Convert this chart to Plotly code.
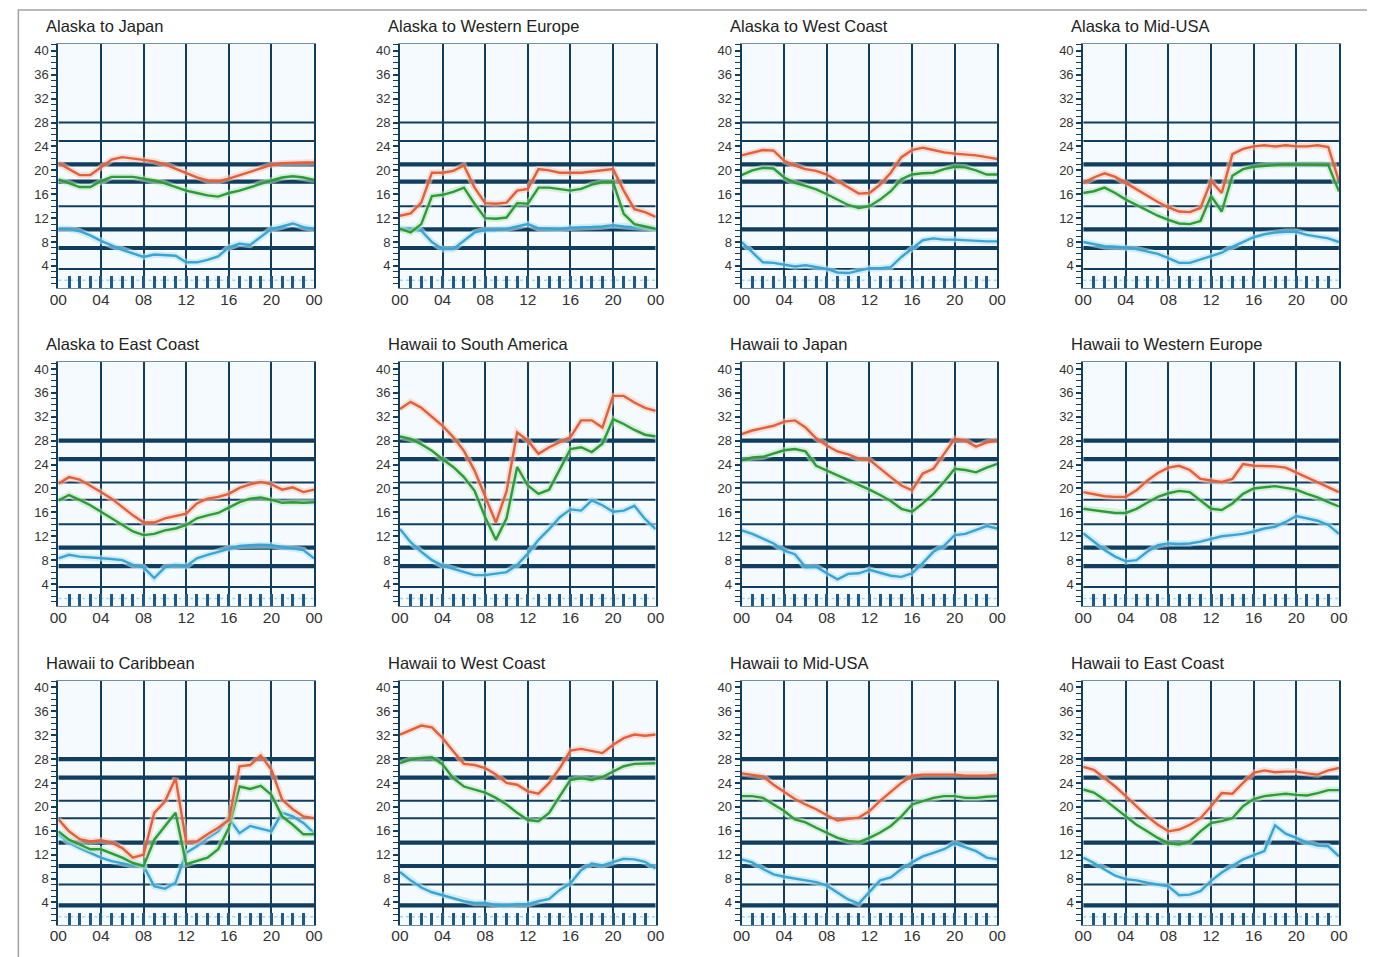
import plotly.graph_objects as go
from plotly.subplots import make_subplots

# ---------------- data ----------------
HOURS = list(range(25))
HOUR_TICKS = [0, 4, 8, 12, 16, 20, 24]
HOUR_LABELS = ["00", "04", "08", "12", "16", "20", "00"]
Y_TICKS = [4, 8, 12, 16, 20, 24, 28, 32, 36, 40]
BANDS = [28.0, 24.9, 21.0, 18.1, 14.0, 10.1, 7.0, 3.5]

TITLES = [
    "Alaska to Japan", "Alaska to Western Europe", "Alaska to West Coast", "Alaska to Mid-USA",
    "Alaska to East Coast", "Hawaii to South America", "Hawaii to Japan", "Hawaii to Western Europe",
    "Hawaii to Caribbean", "Hawaii to West Coast", "Hawaii to Mid-USA", "Hawaii to East Coast",
]

THICK_ROW1 = [21.0, 18.1, 10.1, 7.0]
THICK_ROW2 = [28.0, 24.9, 10.1, 7.0]
THICK_ROW3 = [28.0, 24.9, 14.0, 10.1, 3.5]

AK_JP_MUF = [21.2, 20.2, 19.2, 19.2, 20.5, 21.8, 22.2, 22.0, 21.8, 21.5, 21.0, 20.3, 19.5, 18.8, 18.3, 18.2, 18.6, 19.2, 19.8, 20.4, 20.9, 21.2, 21.3, 21.3, 21.3]
AK_JP_FOT = [18.5, 17.8, 17.2, 17.2, 18.2, 18.9, 18.9, 18.9, 18.6, 18.3, 17.8, 17.2, 16.6, 16.2, 15.8, 15.6, 16.2, 16.6, 17.2, 17.8, 18.3, 18.8, 19.0, 18.8, 18.4]
AK_JP_LUF = [10.2, 10.2, 9.8, 9.1, 8.2, 7.4, 6.7, 6.1, 5.5, 5.9, 5.8, 5.7, 4.6, 4.6, 5.0, 5.6, 7.1, 7.7, 7.5, 8.9, 10.2, 10.6, 11.1, 10.5, 10.2]

AK_WE_MUF = [12.4, 12.8, 14.6, 19.6, 19.6, 19.9, 20.8, 17.1, 14.5, 14.4, 14.6, 16.6, 16.9, 20.2, 20.0, 19.6, 19.6, 19.6, 19.8, 20.0, 20.2, 16.6, 13.5, 13.0, 12.2]
AK_WE_FOT = [10.2, 9.6, 11.0, 15.7, 15.9, 16.4, 17.1, 14.4, 12.0, 11.9, 12.1, 14.5, 14.4, 17.1, 17.1, 16.8, 16.6, 16.9, 17.6, 18.0, 18.0, 12.7, 11.0, 10.6, 10.2]
AK_WE_LUF = [10.2, 10.2, 9.9, 8.0, 6.8, 6.8, 8.2, 9.6, 10.0, 10.0, 10.2, 10.6, 11.0, 10.3, 10.2, 10.2, 10.4, 10.4, 10.5, 10.6, 10.8, 10.6, 10.5, 10.4, 10.2]

AK_WC_MUF = [22.5, 23.0, 23.4, 23.3, 21.6, 20.8, 20.2, 19.9, 19.3, 18.2, 17.1, 16.1, 16.2, 17.6, 19.6, 22.2, 23.4, 23.8, 23.4, 23.0, 22.8, 22.7, 22.5, 22.2, 21.9]
AK_WC_FOT = [19.2, 20.0, 20.4, 20.3, 18.8, 17.9, 17.4, 16.8, 16.0, 15.1, 14.2, 13.7, 14.0, 15.1, 16.5, 18.5, 19.3, 19.5, 19.6, 20.2, 20.6, 20.5, 20.0, 19.3, 19.3]
AK_WC_LUF = [8.0, 6.3, 4.6, 4.5, 4.2, 3.9, 4.1, 3.8, 3.5, 2.9, 2.8, 3.2, 3.6, 3.6, 3.8, 5.5, 6.9, 8.3, 8.6, 8.4, 8.4, 8.3, 8.1, 8.1, 8.1]

AK_MID_MUF = [17.9, 18.8, 19.5, 18.9, 17.9, 16.8, 15.7, 14.7, 13.8, 13.1, 13.0, 13.7, 18.2, 16.2, 22.7, 23.6, 24.0, 24.2, 24.0, 24.2, 24.0, 24.0, 24.2, 23.9, 18.2]
AK_MID_FOT = [16.2, 16.5, 17.1, 16.2, 15.1, 14.2, 13.3, 12.4, 11.7, 11.1, 11.0, 11.5, 15.7, 13.1, 19.1, 20.2, 20.6, 20.8, 20.9, 21.0, 21.0, 21.0, 21.0, 20.9, 16.5]
AK_MID_LUF = [8.0, 7.6, 7.3, 7.2, 7.1, 6.8, 6.4, 6.0, 5.3, 4.5, 4.5, 5.1, 5.6, 6.2, 7.2, 8.0, 8.8, 9.3, 9.6, 9.7, 9.7, 9.2, 8.9, 8.6, 8.0]

AK_EC_MUF = [20.8, 21.9, 21.5, 20.5, 19.4, 18.3, 16.9, 15.5, 14.3, 14.3, 15.0, 15.4, 15.8, 17.5, 18.3, 18.6, 19.1, 20.1, 20.7, 21.1, 20.7, 19.8, 20.2, 19.4, 19.8]
AK_EC_FOT = [18.0, 18.9, 18.1, 17.2, 16.1, 15.0, 13.9, 12.8, 12.2, 12.4, 13.0, 13.3, 13.9, 15.0, 15.5, 15.9, 16.8, 17.7, 18.3, 18.5, 18.1, 17.6, 17.7, 17.6, 17.7]
AK_EC_LUF = [8.3, 8.9, 8.6, 8.5, 8.3, 8.2, 8.0, 7.2, 6.8, 5.0, 6.8, 7.2, 7.0, 8.3, 8.9, 9.4, 10.0, 10.4, 10.5, 10.6, 10.5, 10.2, 10.0, 9.7, 8.3]

HI_SA_MUF = [33.3, 34.5, 33.5, 32.0, 30.5, 28.6, 26.3, 23.0, 18.5, 14.3, 19.5, 29.4, 28.0, 25.8, 26.9, 27.7, 28.6, 31.4, 31.4, 30.2, 35.5, 35.5, 34.4, 33.5, 33.0]
HI_SA_FOT = [28.7, 28.3, 27.4, 26.3, 24.9, 23.6, 21.9, 19.6, 15.2, 11.4, 15.0, 23.6, 20.5, 19.1, 19.8, 23.3, 26.6, 26.9, 26.1, 27.5, 31.6, 30.8, 29.8, 29.0, 28.7]
HI_SA_LUF = [13.2, 11.0, 9.4, 8.0, 7.1, 6.6, 6.1, 5.5, 5.5, 5.8, 6.0, 7.2, 9.1, 11.4, 13.2, 15.2, 16.5, 16.3, 18.0, 17.2, 16.1, 16.3, 17.1, 14.9, 13.2]

HI_JP_MUF = [29.1, 29.7, 30.1, 30.5, 31.2, 31.4, 30.2, 28.4, 27.2, 26.2, 25.7, 25.0, 24.8, 23.3, 21.9, 20.5, 19.7, 22.5, 23.3, 25.8, 28.3, 28.0, 27.0, 27.7, 28.1]
HI_JP_FOT = [24.7, 25.2, 25.3, 25.8, 26.4, 26.6, 26.2, 23.8, 23.0, 22.2, 21.5, 20.7, 19.8, 18.9, 17.9, 16.6, 16.1, 17.5, 19.1, 21.1, 23.3, 23.1, 22.7, 23.5, 24.1]
HI_JP_LUF = [13.0, 12.4, 11.6, 10.8, 9.6, 9.0, 6.8, 6.9, 5.8, 4.8, 5.7, 5.8, 6.4, 5.9, 5.4, 5.2, 5.8, 7.5, 9.4, 10.4, 12.2, 12.4, 13.0, 13.7, 13.3]

HI_WE_MUF = [19.4, 19.0, 18.7, 18.6, 18.6, 19.7, 21.3, 22.6, 23.5, 23.8, 23.1, 21.6, 21.3, 21.1, 21.6, 24.1, 23.8, 23.8, 23.7, 23.5, 22.7, 21.9, 21.1, 20.3, 19.4]
HI_WE_FOT = [16.6, 16.4, 16.1, 15.9, 15.9, 16.6, 17.6, 18.6, 19.2, 19.6, 19.4, 18.0, 16.6, 16.4, 17.5, 19.1, 20.0, 20.2, 20.4, 20.1, 19.8, 19.1, 18.5, 17.7, 17.0]
HI_WE_LUF = [12.5, 11.1, 9.7, 8.6, 7.8, 8.0, 9.4, 10.5, 10.8, 10.7, 10.8, 11.1, 11.6, 12.0, 12.2, 12.4, 12.8, 13.3, 13.6, 14.4, 15.4, 15.0, 14.6, 13.9, 12.4]

HI_CA_MUF = [17.9, 15.9, 14.6, 14.2, 14.4, 14.0, 13.1, 11.5, 12.0, 19.0, 20.9, 24.8, 14.1, 14.2, 15.4, 16.5, 17.8, 26.8, 27.0, 28.6, 26.2, 21.2, 19.6, 18.4, 18.1]
HI_CA_FOT = [15.9, 14.5, 13.7, 12.9, 12.9, 12.2, 11.5, 10.6, 10.1, 14.5, 16.8, 19.0, 10.4, 10.9, 11.5, 12.9, 16.5, 23.4, 23.0, 23.5, 22.0, 18.4, 17.0, 15.4, 15.4]
HI_CA_LUF = [15.4, 14.0, 13.1, 12.3, 11.5, 10.9, 10.6, 10.2, 10.1, 6.7, 6.3, 7.3, 12.3, 13.4, 14.8, 15.9, 18.1, 15.6, 16.8, 16.3, 15.9, 19.0, 18.4, 17.3, 15.6]

HI_WC_MUF = [32.1, 32.9, 33.6, 33.3, 31.5, 29.3, 27.2, 27.0, 26.5, 25.4, 24.0, 23.7, 22.6, 22.2, 24.0, 26.5, 29.4, 29.7, 29.3, 29.0, 30.4, 31.5, 32.1, 31.9, 32.1]
HI_WC_FOT = [27.3, 27.9, 28.2, 28.3, 27.1, 24.8, 23.4, 22.9, 22.4, 21.5, 20.4, 19.0, 17.8, 17.6, 19.0, 21.8, 24.5, 24.8, 24.5, 25.0, 25.9, 26.8, 27.2, 27.3, 27.3]
HI_WC_LUF = [9.1, 7.7, 6.5, 5.7, 5.2, 4.7, 4.2, 3.9, 3.9, 3.6, 3.5, 3.7, 3.7, 4.2, 4.6, 6.1, 7.2, 9.4, 10.5, 10.2, 10.8, 11.3, 11.2, 10.8, 9.7]

HI_MID_MUF = [25.6, 25.4, 25.1, 23.7, 22.5, 21.3, 20.4, 19.6, 18.6, 17.7, 18.0, 18.2, 19.3, 21.0, 22.5, 24.0, 25.2, 25.4, 25.4, 25.4, 25.4, 25.2, 25.2, 25.2, 25.4]
HI_MID_FOT = [21.8, 21.8, 21.5, 20.4, 19.3, 17.9, 17.4, 16.5, 15.7, 14.8, 14.3, 14.1, 14.8, 15.7, 16.8, 18.4, 20.4, 21.0, 21.5, 21.8, 21.8, 21.5, 21.5, 21.7, 21.8]
HI_MID_LUF = [11.2, 10.7, 9.6, 8.7, 8.3, 8.0, 7.8, 7.4, 6.8, 5.7, 4.5, 3.8, 5.7, 7.7, 8.2, 9.6, 10.7, 11.7, 12.3, 12.9, 13.9, 13.2, 12.6, 11.5, 11.2]

HI_EC_MUF = [26.7, 26.2, 24.8, 23.4, 21.8, 20.1, 18.4, 17.0, 15.9, 16.2, 17.0, 18.1, 20.1, 22.3, 22.2, 24.0, 25.7, 26.1, 25.8, 25.9, 25.9, 25.6, 25.4, 26.1, 26.5]
HI_EC_FOT = [22.9, 22.4, 21.2, 19.8, 18.4, 17.0, 15.9, 14.8, 13.9, 13.7, 14.2, 15.9, 17.3, 17.6, 18.1, 20.1, 21.3, 21.8, 22.0, 22.2, 22.0, 21.9, 22.3, 22.8, 22.8]
HI_EC_LUF = [11.5, 10.6, 9.5, 8.5, 7.9, 7.7, 7.3, 7.0, 6.7, 5.2, 5.3, 5.9, 7.6, 9.0, 10.1, 11.2, 11.9, 12.6, 16.9, 15.5, 14.8, 14.0, 13.5, 13.4, 11.7]

PANELS = [
    (AK_JP_MUF, AK_JP_FOT, AK_JP_LUF, THICK_ROW1),
    (AK_WE_MUF, AK_WE_FOT, AK_WE_LUF, THICK_ROW1),
    (AK_WC_MUF, AK_WC_FOT, AK_WC_LUF, THICK_ROW1),
    (AK_MID_MUF, AK_MID_FOT, AK_MID_LUF, THICK_ROW1),
    (AK_EC_MUF, AK_EC_FOT, AK_EC_LUF, THICK_ROW2),
    (HI_SA_MUF, HI_SA_FOT, HI_SA_LUF, THICK_ROW2),
    (HI_JP_MUF, HI_JP_FOT, HI_JP_LUF, THICK_ROW2),
    (HI_WE_MUF, HI_WE_FOT, HI_WE_LUF, THICK_ROW2),
    (HI_CA_MUF, HI_CA_FOT, HI_CA_LUF, THICK_ROW3),
    (HI_WC_MUF, HI_WC_FOT, HI_WC_LUF, THICK_ROW3),
    (HI_MID_MUF, HI_MID_FOT, HI_MID_LUF, THICK_ROW3),
    (HI_EC_MUF, HI_EC_FOT, HI_EC_LUF, THICK_ROW3),
]

# ---------------- styling / layout ----------------
W, H = 1375, 949
# screen position of the figure (measured): screen_x = OFF_X + SCALE_X * fig_x ; screen_y = OFF_Y + fig_y
OFF_X, SCALE_X, OFF_Y = 15.6, 0.988, 8.0

NAVY = "#113d5f"
RED = "#e2603a"
GREEN = "#2e9a3a"
BLUE = "#3aa4d2"
HALO = {RED: "rgba(246,200,185,0.55)", GREEN: "rgba(190,230,190,0.55)", BLUE: "rgba(185,228,245,0.6)"}
FONT = "Liberation Sans, Arial, sans-serif"

# target positions on the screen (pixels)
COL_LEFT = [57, 399, 741, 1083]
PLOT_W = 256
ROW_TOP = [43.3, 361.8, 680.5]
PLOT_H = 244
Y_RANGE = [0.3, 41.1]


def px(xs):
    return (xs - OFF_X) / SCALE_X / W


def py(ys):
    return 1 - (ys - OFF_Y) / H


fig = make_subplots(rows=3, cols=4)

for i, (muf, fot, luf, thick) in enumerate(PANELS):
    r, c = i // 4 + 1, i % 4 + 1
    for b in BANDS:
        fig.add_trace(go.Scatter(x=[HOURS[0], HOURS[-1]], y=[b, b], mode="lines",
                                 line=dict(color=NAVY, width=4.2 if b in thick else 2.0),
                                 hoverinfo="skip", showlegend=False), row=r, col=c)
    fig.add_trace(go.Scatter(x=[HOURS[0], HOURS[-1]], y=[1.6, 1.6], mode="lines",
                             line=dict(color="#a8d6ec", width=1.5, dash="dot"),
                             hoverinfo="skip", showlegend=False), row=r, col=c)
    for series, color in ((luf, BLUE), (fot, GREEN), (muf, RED)):
        fig.add_trace(go.Scatter(x=HOURS, y=series, mode="lines",
                                 line=dict(color=HALO[color], width=6.5),
                                 hoverinfo="skip", showlegend=False), row=r, col=c)
        fig.add_trace(go.Scatter(x=HOURS, y=series, mode="lines",
                                 line=dict(color=color, width=2.4),
                                 showlegend=False), row=r, col=c)

    idx = "" if i == 0 else str(i + 1)
    left = COL_LEFT[c - 1]
    top = ROW_TOP[r - 1]
    fig.layout["xaxis" + idx].update(
        domain=[px(left), px(left + PLOT_W)], range=[0, 24], tickvals=HOUR_TICKS, ticktext=HOUR_LABELS,
        showgrid=True, gridcolor=NAVY, gridwidth=2, zeroline=False,
        showline=True, mirror=True, linecolor="#6f90aa", linewidth=1,
        ticks="inside", ticklen=12, tickwidth=3, tickcolor="#1f5a86",
        minor=dict(dtick=1, tick0=0, ticks="inside", ticklen=12, tickwidth=3.2,
                   tickcolor="#1f5a86", showgrid=False),
        tickfont=dict(family=FONT, size=15.5, color="#333333"),
        ticklabelstandoff=-3,
    )
    fig.layout["yaxis" + idx].update(
        domain=[py(top + PLOT_H), py(top)], range=Y_RANGE, tickvals=Y_TICKS,
        showgrid=False, zeroline=False,
        showline=True, mirror=True, linecolor=NAVY, linewidth=2,
        ticks="outside", ticklen=5, tickwidth=2, tickcolor=NAVY,
        minor=dict(dtick=1, tick0=0, ticks="outside", ticklen=5, tickwidth=1.4,
                   tickcolor=NAVY, showgrid=False),
        tickfont=dict(family=FONT, size=13, color="#333333"),
    )
    fig.add_annotation(text=TITLES[i], xref="paper", yref="paper",
                       x=px(left - 14), y=py(top - 18),
                       xanchor="left", yanchor="middle", showarrow=False,
                       font=dict(family=FONT, size=16.5, color="#222222"))

fig.add_shape(type="rect", xref="paper", yref="paper",
              x0=0.001, x1=px(1368), y0=-0.05, y1=0.999,
              line=dict(color="#a3a3a3", width=1.5), fillcolor="rgba(0,0,0,0)", layer="below")

fig.update_layout(
    width=W, height=H, margin=dict(l=0, r=0, t=0, b=0),
    paper_bgcolor="white", plot_bgcolor="#f4fafd",
    showlegend=False, font=dict(family=FONT),
)

fig.write_html("out.html")
